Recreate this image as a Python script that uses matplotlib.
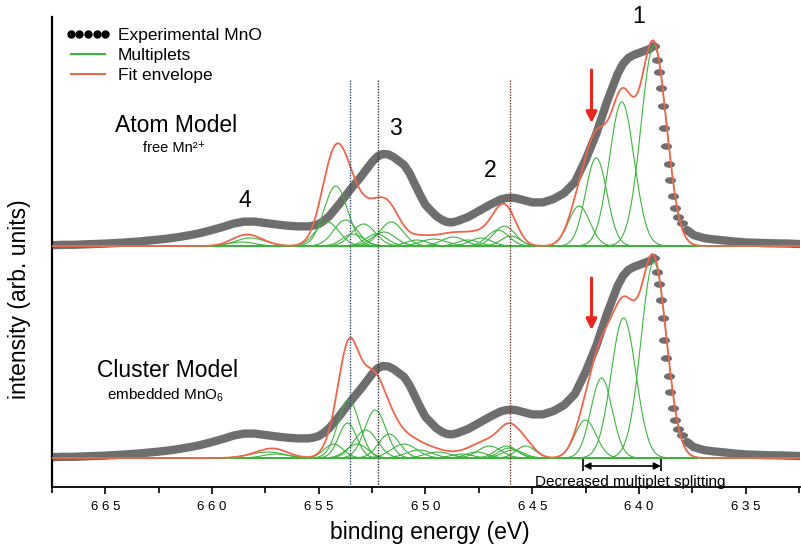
import numpy as np
import matplotlib
matplotlib.use('Agg')
import matplotlib.pyplot as plt
from matplotlib.lines import Line2D
from matplotlib.path import Path
from matplotlib.transforms import Affine2D

plt.rcParams['font.family'] = ['Liberation Sans', 'DejaVu Sans']
plt.rcParams['mathtext.fontset'] = 'custom'
plt.rcParams['mathtext.rm'] = 'Liberation Sans'

# experimental MnO spectrum (binding energy in eV, normalised intensity)
exp_energy = [667.5, 667.0, 666.5, 666.0, 665.5, 665.0, 664.5, 664.0, 663.5, 663.0,
              662.5, 662.0, 661.5, 661.0, 660.5, 660.0, 659.5, 659.0, 658.5, 658.0,
              657.5, 657.0, 656.5, 656.0, 655.5, 655.25, 655.0, 654.75, 654.5, 654.0,
              653.5, 653.0, 652.5, 652.25, 652.0, 651.75, 651.5, 651.0, 650.75, 650.5,
              650.25, 650.0, 649.5, 649.25, 649.0, 648.75, 648.5, 648.0, 647.5, 647.0,
              646.5, 646.25, 646.0, 645.75, 645.5, 645.0, 644.5, 644.0, 643.5, 643.0,
              642.5, 642.0, 641.5, 641.0, 640.75, 640.5, 640.25, 640.0, 639.75, 639.5,
              639.3,
              639.15, 639.05, 638.97, 638.87, 638.81, 638.72, 638.61, 638.53, 638.42,
              638.30, 638.17, 637.98, 637.75, 637.44, 636.97, 636.5, 636.0, 635.5,
              635.0, 634.0, 633.0, 632.5]
exp_intensity = [0.004, 0.006, 0.006, 0.008, 0.010, 0.012, 0.015, 0.018, 0.022, 0.027,
                 0.032, 0.038, 0.046, 0.055, 0.066, 0.080, 0.095, 0.112, 0.122, 0.122,
                 0.115, 0.108, 0.102, 0.098, 0.098, 0.102, 0.110, 0.127, 0.150, 0.215,
                 0.285, 0.350, 0.420, 0.448, 0.460, 0.458, 0.445, 0.405, 0.365, 0.310,
                 0.255, 0.205, 0.150, 0.132, 0.120, 0.118, 0.125, 0.145, 0.175, 0.205,
                 0.232, 0.239, 0.242, 0.239, 0.232, 0.218, 0.218, 0.235, 0.265, 0.320,
                 0.430, 0.560, 0.720, 0.860, 0.910, 0.940, 0.955, 0.965, 0.975, 0.985,
                 1.000,
                 0.93, 0.87, 0.79, 0.70, 0.59, 0.50, 0.41, 0.33, 0.25,
                 0.19, 0.147, 0.113, 0.080, 0.055, 0.040, 0.033, 0.028, 0.022,
                 0.018, 0.014, 0.012, 0.010]

# multiplet lines: centre (eV), height, gaussian width (eV)
atom_center = [639.30, 640.80, 642.00, 642.80, 646.00, 646.30, 646.60, 647.40, 648.00,
               648.70, 649.60, 650.40, 651.60, 651.95, 652.30, 652.90, 653.40, 653.75,
               654.20, 654.60, 658.20, 658.60]
atom_height = [1.00, 0.72, 0.44, 0.20, 0.05, 0.10, 0.08, 0.04, 0.03,
               0.045, 0.035, 0.03, 0.12, 0.07, 0.06, 0.11, 0.06, 0.13,
               0.30, 0.12, 0.04, 0.02]
atom_width = [0.60, 0.58, 0.50, 0.50, 0.45, 0.50, 0.50, 0.50, 0.50,
              0.55, 0.60, 0.50, 0.55, 0.55, 0.50, 0.55, 0.50, 0.55,
              0.55, 0.55, 0.70, 0.60]

cluster_center = [639.30, 640.72, 641.75, 642.50, 645.30, 645.90, 646.10, 646.20, 647.00,
                  647.60, 648.30, 649.40, 650.30, 651.00, 651.70, 652.35, 652.80, 653.20,
                  653.60, 653.65, 654.30, 657.00, 657.40]
cluster_height = [0.98, 0.70, 0.40, 0.19, 0.06, 0.04, 0.05, 0.06, 0.06,
                  0.03, 0.02, 0.03, 0.04, 0.07, 0.12, 0.24, 0.14, 0.07,
                  0.29, 0.175, 0.07, 0.02, 0.03]
cluster_width = [0.60, 0.58, 0.50, 0.50, 0.45, 0.50, 0.45, 0.50, 0.55,
                 0.50, 0.50, 0.60, 0.60, 0.60, 0.50, 0.50, 0.55, 0.50,
                 0.50, 0.42, 0.45, 0.60, 0.80]

atom_offset = 1.06
cluster_offset = 0.0

guide_energy = [653.53, 652.23, 646.06]
guide_color = ['#2b4a6b', '#333333', '#6b3a2a']

tick_values = [665, 660, 655, 650, 645, 640, 635]
tick_labels = ['6 6 5', '6 6 0', '6 5 5', '6 5 0', '6 4 5', '6 4 0', '6 3 5']
minor_values = [667.5, 662.5, 657.5, 652.5, 647.5, 642.5, 637.5, 632.5]

gray = '#6e6e6e'
green = '#3cb43c'
red = '#f0644a'

fig = plt.figure(figsize=(8.01, 5.45), dpi=100)
ax = fig.add_axes([0.0649, 0.1064, 0.9339, 0.8624])

E = np.array(exp_energy)
I = np.array(exp_intensity)
smooth = (E >= 639.3) | (E <= 637.75)
steep = (E <= 639.3) & (E >= 637.75)
ell = Path.unit_circle().transformed(Affine2D().scale(1.0, 0.6))

xs = np.linspace(632.4, 667.5, 1600)


def gauss(c, h, w):
    return h * np.exp(-(xs - c) ** 2 / (2 * w ** 2))


for off, cen, hei, wid in [(atom_offset, atom_center, atom_height, atom_width),
                           (cluster_offset, cluster_center, cluster_height, cluster_width)]:
    ax.plot(E, np.where(smooth, I + off, np.nan), color=gray, lw=6,
            solid_capstyle='round', solid_joinstyle='round', zorder=2)
    ax.plot(E[steep], I[steep] + off, ls='none', marker=ell, ms=8, color=gray,
            mec='none', zorder=2)
    env = np.zeros_like(xs)
    for c, h, w in zip(cen, hei, wid):
        g = gauss(c, h, w)
        env += g
        ax.plot(xs, g + off, color=green, lw=0.8, zorder=3)
    ax.plot(xs, env + off, color=red, lw=1.3, zorder=4)

for x, c in zip(guide_energy, guide_color):
    ax.vlines(x, -0.145, 1.89, colors=c, linestyles=(0, (1, 1)), lw=1.0, zorder=5)

# red arrows
for y0, y1 in [(1.94, 1.675), (0.90, 0.64)]:
    ax.annotate('', xy=(642.22, y1), xytext=(642.22, y0),
                arrowprops=dict(arrowstyle='-|>', color='#e8261c', lw=2.2,
                                mutation_scale=16, shrinkA=0, shrinkB=0))

# multiplet splitting marker
ax.annotate('', xy=(638.97, -0.04), xytext=(642.6, -0.04),
            arrowprops=dict(arrowstyle='<|-|>', color='black', lw=1.2,
                            mutation_scale=10, shrinkA=0, shrinkB=0))
ax.vlines([642.6, 638.97], -0.065, 0.005, colors='black', lw=1.2)
ax.text(640.4, -0.142, 'Decreased multiplet splitting', ha='center', va='baseline',
        fontsize=11)

# labels in the plot
ax.text(661.7, 1.665, 'Atom Model', ha='center', va='center', fontsize=16.5)
ax.text(661.8, 1.55, 'free Mn²⁺', ha='center', va='center', fontsize=10.5)
ax.text(662.1, 0.44, 'Cluster Model', ha='center', va='center', fontsize=16.5)
ax.text(662.2, 0.315, r'embedded MnO$_{\rm 6}$', ha='center', va='center', fontsize=11)
for lab, x, y in [('1', 640.0, 2.21), ('2', 646.97, 1.44), ('3', 651.4, 1.65), ('4', 658.45, 1.29)]:
    ax.text(x, y, lab, ha='center', va='center', fontsize=16.5)

ax.set_xlim(667.5, 632.45)
ax.set_ylim(-0.145, 2.205)
ax.set_xticks(tick_values)
ax.set_xticklabels(tick_labels)
ax.set_xticks(minor_values, minor=True)
ax.tick_params(axis='x', which='major', direction='out', length=5, width=1.2, pad=5, labelsize=9.5)
ax.tick_params(axis='x', which='minor', direction='out', length=4, width=1.2)
ax.set_yticks([])
for s in ['top', 'right']:
    ax.spines[s].set_visible(False)
ax.spines['left'].set_linewidth(1.6)
ax.spines['bottom'].set_linewidth(1.3)

ax.set_xlabel('binding energy (eV)', fontsize=16.5, va='center')
ax.xaxis.set_label_coords(0.505, -0.096)
ax.set_ylabel('intensity (arb. units)', fontsize=16.5, va='center')
ax.yaxis.set_label_coords(-0.044, 0.40)

handles = [Line2D([], [], ls='none', marker='o', ms=5, color='black'),
           Line2D([], [], color=green, lw=1.5),
           Line2D([], [], color=red, lw=1.5)]
ax.legend(handles, ['Experimental MnO', 'Multiplets', 'Fit envelope'],
          loc='upper left', bbox_to_anchor=(0.018, 0.977), frameon=False,
          numpoints=5, handlelength=2.6, handletextpad=0.4, labelspacing=0.27,
          borderpad=0, borderaxespad=0, fontsize=12.5)

fig.savefig('out.png', dpi=100)
